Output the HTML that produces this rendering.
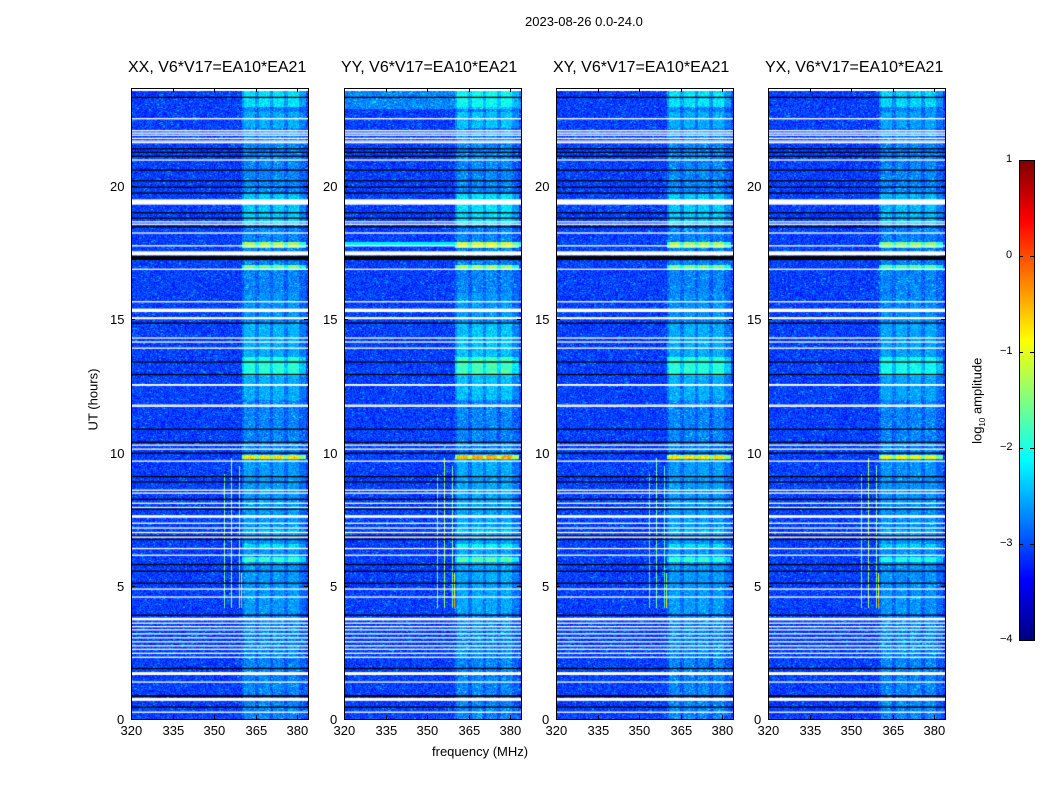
<!DOCTYPE html>
<html><head><meta charset="utf-8">
<style>
body{margin:0;background:#fff;width:1050px;height:800px;overflow:hidden;font-family:"Liberation Sans",sans-serif;}
#root{position:relative;width:1050px;height:800px;}
.t{position:absolute;font-size:13px;color:#000;white-space:nowrap;}
.pt{position:absolute;font-size:16px;color:#000;white-space:nowrap;}
canvas{position:absolute;}
svg{position:absolute;left:0;top:0;}
</style></head>
<body>
<div id="root">
<div class="t" style="left:525px;top:14px;">2023-08-26 0.0-24.0</div>
<div class="t" style="left:432px;top:744px;">frequency (MHz)</div>
<div class="t" style="left:62px;top:392px;transform:rotate(-90deg);">UT (hours)</div>
<div class="t" style="left:935px;top:392px;transform:rotate(-90deg);">log<sub style="font-size:8px">10</sub> amplitude</div>
<canvas id="cbar" width="15" height="480" style="left:1019px;top:160px;"></canvas>
<svg id="ov" width="1050" height="800"></svg>
</div>
<script>
// ---- data ----
const panelTitles = ["XX, V6*V17=EA10*EA21","YY, V6*V17=EA10*EA21","XY, V6*V17=EA10*EA21","YX, V6*V17=EA10*EA21"];
const panelLeft = [131,344,556,768];
const xTicks = [320,335,350,365,380];
const yTicks = [0,5,10,15,20];
const cbarTicks = [1,0,-1,-2,-3,-4];
const whiteRows = [[22.5,22.55],[22.05,22.1],[21.97,22.01],[21.89,21.93],[21.77,21.81],[21.67,21.71],[21.61,21.65],[20.95,21.0],
 [19.3,19.5],[18.64,18.68],[18.55,18.59],[18.22,18.26],[17.74,17.78],[17.4,17.55],[16.86,16.9],[15.64,15.68],[15.27,15.4],[15.0,15.08],
 [14.28,14.32],[14.13,14.17],[13.9,13.94],[12.5,12.57],[11.76,11.8],[11.72,11.76],[10.26,10.3],[10.11,10.15],[9.66,9.7],[8.57,8.61],[8.46,8.5],
 [8.08,8.12],[7.92,7.96],[7.55,7.65],[7.33,7.37],[7.15,7.19],[6.98,7.02],[6.8,6.9],[6.38,6.42],[6.13,6.17],[4.86,4.9],[4.56,4.6],[3.7,3.8],
 [3.58,3.62],[3.45,3.49],[3.33,3.37],[3.18,3.22],[3.03,3.07],[2.88,2.92],[2.73,2.77],[2.6,2.64],[2.45,2.49],[2.3,2.34],[1.65,1.76],[1.37,1.41],[0.68,0.79],[0.24,0.28]];
const blackRows = [[23.31,23.35],[21.38,21.42],[21.25,21.29],[21.1,21.14],[20.58,20.62],[20.18,20.22],[19.94,19.98],[19.72,19.76],[18.98,19.02],
 [18.78,18.82],[18.45,18.49],[17.22,17.37],[14.84,14.88],[13.38,13.42],[12.91,12.95],[10.86,10.9],[10.37,10.41],[9.96,10.0],[9.08,9.12],[8.88,8.92],
 [8.23,8.27],[7.86,7.9],[6.85,6.9],[6.72,6.76],[5.78,5.82],[5.53,5.57],[5.08,5.12],[3.88,3.92],[1.88,1.92],[0.83,0.9],[0.43,0.47]];
const subBands = [[360.5,364.5],[366,370],[371,375],[376.5,380.5]];
const events = [[23.0,23.6,0.36],[22.2,22.8,0.3],[18.6,19.7,0.33],[17.7,17.9,0.55],[16.85,17.05,0.5],[12.9,13.6,0.42],[12.0,14.9,0.3],
 [9.76,9.92,0.66],[5.9,6.08,0.44],[6.45,6.6,0.36],[7.0,7.1,0.34],[4.0,10.0,0.27],[15.0,16.0,0.25]];
const panelGain = [1.0,1.08,1.0,0.95];
const vLines = [[353.5,4.2,9.2,0.5],[356.2,4.2,9.8,0.55],[359.0,4.2,9.5,0.5],[359.7,4.2,5.5,0.6],[359.7,4.2,4.6,0.72]];

// ---- scales ----
const yTop=88, yBot=719, pw=177;
const fy = t => 719 - 26.65*t;
const fx = (i,f) => panelLeft[i] + (f-320)*2.767;
function jet(v){v=Math.max(0,Math.min(1,v));const c=x=>Math.round(255*Math.max(0,Math.min(1,x)));
 return [c(1.5-Math.abs(4*v-3)),c(1.5-Math.abs(4*v-2)),c(1.5-Math.abs(4*v-1))];}
function hash(x,y,s){let h=(x*374761393+y*668265263+s*982451653)|0;h=(h^(h>>>13))*1274126177|0;return ((h^(h>>>16))>>>0)/4294967296;}

const root=document.getElementById('root');
const ov=document.getElementById('ov');
const NS='http://www.w3.org/2000/svg';
function sv(tag,attrs){const e=document.createElementNS(NS,tag);for(const k in attrs)e.setAttribute(k,attrs[k]);ov.appendChild(e);return e;}

for(let p=0;p<4;p++){
 const cv=document.createElement('canvas');
 cv.width=pw; cv.height=yBot-yTop;
 cv.style.left=panelLeft[p]+'px'; cv.style.top=yTop+'px';
 
 
 root.insertBefore(cv,ov);
 const ctx=cv.getContext('2d');
 const W=cv.width,H=cv.height;
 const img=ctx.createImageData(W,H);
 const tTop=23.6;
 for(let y=0;y<H;y++){
  const t=(719-(y+yTop))/26.65;
  for(let x=0;x<W;x++){
   const f=320+x/2.767;
   const o=(y*W+x)*4;
   if(t>tTop){img.data[o+3]=0;continue;}
   let v=0.13+0.11*hash(x,y,p)+(hash(x>>1,y,p+7)>0.95?0.08:0);
   const inBand=f>=360&&f<=383;
   let sb=false;for(const b of subBands)if(f>=b[0]&&f<=b[1])sb=true;
   if(inBand)v+=0.03;
   if(sb)v+=0.04;
   if(p===1&&t>22.9)v+=0.07;
   if(p===1&&t>17.75&&t<17.9)v=Math.max(v,0.36);
   for(const e of events){
    if(t>=e[0]&&t<=e[1]&&inBand){const lv=e[2]*panelGain[p]*(sb?1:0.8);v=Math.max(v,lv-0.06+0.1*hash(x,y,p+3));}
   }
   for(const l of vLines){
    if(Math.abs(f-l[0])<0.2&&t>=l[1]&&t<=l[2])v=Math.max(v,l[3]*(p===2?0.9:1));
   }
   const c=jet(v);
   img.data[o]=c[0];img.data[o+1]=c[1];img.data[o+2]=c[2];img.data[o+3]=255;
  }
 }
 ctx.putImageData(img,0,0);
 ctx.fillStyle='#fff';
 for(const r of whiteRows){const y1=fy(r[1])-yTop,y0=fy(r[0])-yTop;ctx.fillRect(0,y1,W,Math.max(1.3,y0-y1));}
 ctx.fillStyle='#000';
 for(const r of blackRows){const y1=fy(r[1])-yTop,y0=fy(r[0])-yTop;ctx.fillRect(0,y1,W,Math.max(1.3,y0-y1));}

 const fr=sv('rect',{x:panelLeft[p]+0.5,y:yTop+0.5,width:pw,height:yBot-yTop,fill:'none',stroke:'#000','stroke-width':1});
 
 
 const tt=document.createElement('div');tt.className='pt';tt.textContent=panelTitles[p];
 tt.style.left=(panelLeft[p]-3)+'px';tt.style.top='59px';
 
 
 root.appendChild(tt);
 for(const xv of xTicks){
  const x=Math.round(fx(p,xv))+0.5;
  sv('line',{x1:x,x2:x,y1:yBot,y2:yBot-4,stroke:'#000'});
  sv('line',{x1:x,x2:x,y1:yTop,y2:yTop+4,stroke:'#000'});
  const d=document.createElement('div');d.className='t';d.textContent=xv;
  d.style.left=(x-11)+'px';d.style.top='723px';
  
  
  root.appendChild(d);
 }
 for(const yv of yTicks){
  const y=Math.round(fy(yv))+0.5;
  sv('line',{x1:panelLeft[p],x2:panelLeft[p]+4,y1:y,y2:y,stroke:'#000'});
  sv('line',{x1:panelLeft[p]+pw,x2:panelLeft[p]+pw-4,y1:y,y2:y,stroke:'#000'});
  const d=document.createElement('div');d.className='t';d.textContent=yv;
  d.style.left=(panelLeft[p]-6-(yv>=10?15:8))+'px';d.style.top=(y-8)+'px';
  
  
  root.appendChild(d);
 }
}
const cb=document.getElementById('cbar').getContext('2d');
for(let y=0;y<480;y++){const c=jet(1-y/479);cb.fillStyle=`rgb(${c[0]},${c[1]},${c[2]})`;cb.fillRect(0,y,15,1);}
sv('rect',{x:1019.5,y:160.5,width:15,height:480,fill:'none',stroke:'#000'});
for(const v of cbarTicks){
 const y=Math.round(160+(1-v)*96)+0.5;
 sv('line',{x1:1019,x2:1023,y1:y,y2:y,stroke:'#000'});
 sv('line',{x1:1034,x2:1030,y1:y,y2:y,stroke:'#000'});
 const d=document.createElement('div');d.className='t';d.textContent=v<0?'\u2212'+(-v):v;
 d.style.left=(v<0?1000:1006)+'px';d.style.top=(y-8)+'px';d.style.fontSize='11px';
 
 
 root.appendChild(d);
}
</script>
</body></html>
